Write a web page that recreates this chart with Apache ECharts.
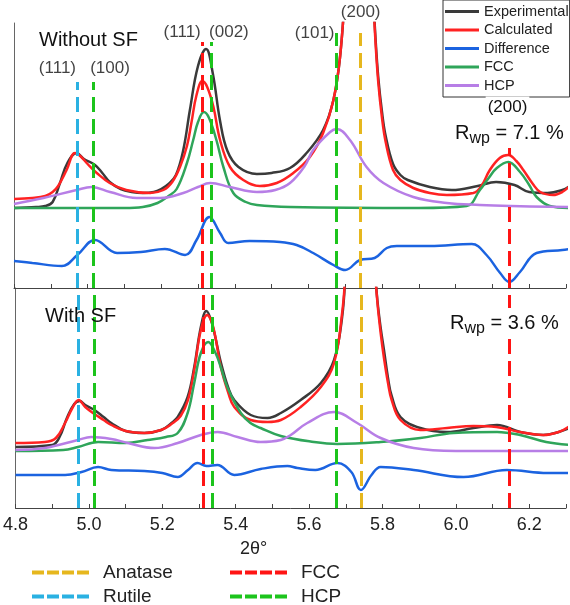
<!DOCTYPE html>
<html>
<head>
<meta charset="utf-8">
<title>XRD refinement with / without SF</title>
<script src="https://cdn.jsdelivr.net/npm/echarts@6/dist/echarts.min.js"></script>
<style>
html, body { margin: 0; padding: 0; background: #fff; }
#chart { width: 570px; height: 605px; }
</style>
</head>
<body>
<div id="chart"></div>
<script>
// 2θ positions of the reference reflections
const rutilePeaks = [4.972]
const hcpPeaks = [5.015, 5.335, 5.675]
const fccPeaks = [5.312, 6.146]
const anatasePeaks = [5.741]

// upper panel: without stacking faults (arbitrary intensity units)
const topExperimental = [
  [4.80, 80], [4.86, 81], [4.885, 82], [4.905, 86], [4.925, 105], [4.945, 125], [4.97, 135],
  [4.99, 129], [5.02, 123], [5.04, 115], [5.06, 106], [5.09, 99], [5.12, 96], [5.15, 95],
  [5.18, 96], [5.20, 99], [5.22, 104], [5.24, 113], [5.26, 138], [5.278, 178], [5.30, 222],
  [5.322, 239], [5.34, 215], [5.36, 167], [5.38, 137], [5.41, 121], [5.46, 114], [5.50, 115],
  [5.55, 120], [5.595, 135], [5.64, 158], [5.668, 188], [5.686, 231], [5.70, 300], [5.72, 430],
  [5.74, 520], [5.76, 420], [5.775, 300], [5.782, 252], [5.79, 210], [5.80, 176], [5.81, 152],
  [5.83, 124], [5.85, 113], [5.87, 108], [5.93, 101], [5.99, 98], [6.06, 102], [6.11, 106],
  [6.16, 103], [6.20, 96], [6.25, 95], [6.29, 98], [6.31, 102]
]
const topCalculated = [
  [4.80, 89], [4.85, 90], [4.885, 92], [4.905, 96], [4.92, 102], [4.943, 118], [4.966, 135],
  [4.98, 132], [5.00, 124], [5.025, 115], [5.06, 105], [5.105, 98], [5.17, 95], [5.206, 98],
  [5.23, 106], [5.251, 121], [5.27, 142], [5.282, 165], [5.296, 193], [5.312, 207], [5.325, 201],
  [5.342, 181], [5.36, 148], [5.387, 121], [5.423, 108], [5.468, 102], [5.514, 105], [5.559, 115],
  [5.604, 131], [5.64, 155], [5.668, 188], [5.686, 231], [5.70, 300], [5.72, 430], [5.74, 520],
  [5.76, 410], [5.775, 300], [5.782, 248], [5.79, 205], [5.80, 170], [5.81, 146], [5.83, 118],
  [5.85, 108], [5.885, 100], [5.93, 95], [5.976, 93], [6.048, 95], [6.07, 102], [6.093, 118],
  [6.12, 130], [6.143, 133], [6.165, 127], [6.184, 118], [6.21, 104], [6.23, 96], [6.265, 93],
  [6.29, 96], [6.31, 102]
]
const topDifference = [
  [4.80, 27], [4.85, 25], [4.93, 22], [4.972, 33], [5.02, 48], [5.08, 35], [5.145, 36],
  [5.21, 39], [5.265, 33], [5.296, 48], [5.331, 71], [5.36, 55], [5.382, 45], [5.44, 47],
  [5.523, 46], [5.568, 43], [5.613, 35], [5.668, 23], [5.70, 18], [5.74, 28], [5.78, 30],
  [5.813, 40], [5.84, 42], [5.93, 42], [6.044, 44], [6.084, 33], [6.121, 15], [6.146, 6],
  [6.175, 16], [6.22, 35], [6.29, 38], [6.31, 39]
]
const topFcc = [
  [4.80, 80], [5.10, 80], [5.15, 81], [5.19, 85], [5.22, 92], [5.242, 99], [5.27, 125],
  [5.287, 148], [5.30, 166], [5.316, 176], [5.33, 170], [5.35, 148], [5.369, 121], [5.396, 95],
  [5.43, 86], [5.46, 83], [5.55, 81], [5.90, 80], [6.03, 82], [6.066, 98], [6.09, 110],
  [6.112, 120], [6.143, 126], [6.175, 116], [6.20, 103], [6.22, 91], [6.256, 82], [6.31, 80]
]
const topHcp = [
  [4.80, 84], [4.88, 90], [4.97, 98], [5.011, 101], [5.061, 96], [5.133, 90], [5.197, 90],
  [5.26, 95], [5.30, 101], [5.333, 105], [5.387, 101], [5.46, 96], [5.51, 98], [5.55, 105],
  [5.59, 122], [5.613, 138], [5.659, 156], [5.677, 159], [5.713, 148], [5.758, 121],
  [5.804, 105], [5.885, 91], [5.976, 85], [6.066, 83], [6.15, 82], [6.31, 81]
]

// lower panel: with stacking faults
const botExperimental = [
  [4.80, 61], [4.90, 63], [4.92, 71], [4.94, 90], [4.96, 104], [4.975, 107], [4.99, 103],
  [5.015, 98], [5.04, 91], [5.061, 85], [5.10, 77], [5.151, 75], [5.197, 78], [5.225, 85],
  [5.242, 91], [5.269, 111], [5.287, 141], [5.305, 181], [5.32, 197], [5.335, 185], [5.36, 145],
  [5.38, 120], [5.396, 108], [5.441, 93], [5.487, 90], [5.523, 95], [5.577, 108], [5.632, 125],
  [5.668, 148], [5.69, 191], [5.70, 240], [5.72, 350], [5.74, 450], [5.76, 350], [5.778, 245],
  [5.786, 208], [5.795, 180], [5.804, 158], [5.815, 130], [5.825, 112], [5.849, 91], [5.903, 80],
  [5.976, 76], [6.048, 80], [6.112, 83], [6.175, 76], [6.238, 73], [6.28, 76], [6.31, 80]
]
const botCalculated = [
  [4.80, 65], [4.88, 66], [4.91, 70], [4.935, 85], [4.955, 100], [4.972, 108], [4.99, 101],
  [5.015, 94], [5.04, 88], [5.061, 83], [5.10, 77], [5.151, 75], [5.197, 78], [5.225, 84],
  [5.25, 92], [5.27, 108], [5.287, 138], [5.305, 178], [5.322, 193], [5.338, 182], [5.36, 140],
  [5.38, 115], [5.396, 101], [5.441, 88], [5.487, 86], [5.523, 88], [5.577, 101], [5.632, 121],
  [5.668, 145], [5.69, 195], [5.70, 240], [5.72, 350], [5.74, 450], [5.76, 350], [5.778, 245],
  [5.786, 206], [5.795, 175], [5.804, 150], [5.815, 125], [5.825, 108], [5.849, 88], [5.903, 78],
  [5.976, 80], [6.048, 82], [6.11, 81], [6.175, 76], [6.238, 73], [6.28, 76], [6.31, 82]
]
const botDifference = [
  [4.80, 33], [4.935, 33], [4.98, 36], [5.025, 41], [5.061, 38], [5.151, 37], [5.20, 35],
  [5.242, 31], [5.27, 38], [5.296, 45], [5.32, 42], [5.35, 43], [5.396, 33], [5.468, 39],
  [5.541, 42], [5.568, 40], [5.617, 38], [5.677, 45], [5.715, 36], [5.741, 18], [5.77, 33],
  [5.795, 41], [5.885, 38], [6.021, 31], [6.139, 38], [6.25, 35], [6.31, 35]
]
const botFcc = [
  [4.80, 57], [4.93, 58], [4.97, 61], [5.025, 66], [5.10, 65], [5.16, 68], [5.21, 71],
  [5.242, 75], [5.269, 95], [5.287, 125], [5.305, 155], [5.325, 166], [5.345, 155], [5.36, 140],
  [5.378, 120], [5.414, 95], [5.44, 85], [5.468, 80], [5.523, 72], [5.613, 66], [5.677, 64],
  [5.795, 66], [5.903, 70], [5.994, 75], [6.112, 76], [6.175, 73], [6.246, 66], [6.31, 63]
]
const botHcp = [
  [4.80, 58], [4.88, 60], [4.97, 68], [5.006, 71], [5.061, 69], [5.106, 65], [5.179, 60],
  [5.242, 65], [5.305, 73], [5.351, 76], [5.405, 71], [5.468, 66], [5.523, 68], [5.55, 73],
  [5.595, 85], [5.668, 96], [5.731, 85], [5.795, 70], [5.885, 60], [6.0, 57], [6.31, 57]
]

const FONT = 'Liberation Sans, Arial, sans-serif'
const C = {
  exp: '#3a3a3a', calc: '#ff2222', diff: '#1b63e0', fcc: '#2fa55a', hcp: '#b77ee6',
  anatase: '#e6b71e', rutile: '#2ab1e2', fccRef: '#ff1414', hcpRef: '#1cc41c'
}
const DASH_ICON = 'path://M0,0h12v4h-12zM15,0h12v4h-12zM30,0h12v4h-12zM45,0h12v4h-12z'

// where the dashed lines stop in the upper panel (leaves room for the hkl labels)
const topEnds = { rutile: [206], hcp: [206, 246, 255], fcc: [246, 195], anatase: [255] }
const BOT_TOP = 220

// hkl labels of the upper panel: text, 2θ of label centre, height of label centre
const topHkl = [
  ['(111)', 4.918, 220], ['(100)', 5.061, 220], ['(111)', 5.257, 256], ['(002)', 5.384, 256],
  ['(101)', 5.617, 255], ['(200)', 5.742, 276]
]

function curve(name, data, color, g) {
  return {
    name, type: 'line', xAxisIndex: g, yAxisIndex: g, data,
    smooth: 0.4, symbol: 'none', silent: true, z: 2,
    lineStyle: { color, width: 2.5 }, itemStyle: { color }
  }
}

function refLines(name, peaks, color, g, ends) {
  return {
    name, type: 'line', xAxisIndex: g, yAxisIndex: g, data: [],
    symbol: 'none', silent: true, z: 3,
    lineStyle: { color, width: 4 }, itemStyle: { color },
    markLine: {
      silent: true, symbol: 'none', animation: false,
      label: { show: false },
      lineStyle: { color, width: 3, type: [15, 7] },
      data: peaks.map((x, i) => [{ coord: [x, 0] }, { coord: [x, ends[i]] }])
    }
  }
}

function xAxis(g, labels) {
  return {
    type: 'value', gridIndex: g, min: 4.8, max: 6.3, interval: 0.1,
    axisLine: { lineStyle: { color: '#444', width: 1 } },
    axisTick: { inside: true, length: 4, lineStyle: { color: '#444' } },
    splitLine: { show: false },
    axisLabel: {
      show: labels, color: '#222', fontSize: 18, fontFamily: FONT, margin: 8,
      formatter: function(v) {
        const t = Math.round(v * 10)
        return t % 2 === 0 ? (t / 10).toFixed(1) : ''
      }
    }
  }
}

function yAxis(g, max) {
  return {
    type: 'value', gridIndex: g, min: 0, max: max,
    axisLine: { show: true, lineStyle: { color: '#666', width: 1 } },
    axisTick: { show: false }, axisLabel: { show: false }, splitLine: { show: false }
  }
}

function refLegend(names, left) {
  return {
    data: names, orient: 'vertical', left, top: 563, height: 60, padding: 0,
    itemGap: 5, itemWidth: 57, itemHeight: 4, icon: DASH_ICON, selectedMode: false,
    itemStyle: { borderWidth: 0 },
    formatter: name => name.replace(' peaks', ''),
    textStyle: { fontSize: 19, lineHeight: 19, fontFamily: FONT, color: '#222', padding: [0, 0, 0, 9] }
  }
}

function rwp(left, top, value) {
  return {
    type: 'text', left, top, z: 100, silent: true,
    style: {
      text: '{r|R}{s|wp}{r| = ' + value + ' %}',
      backgroundColor: '#fff', padding: [2, 2],
      rich: {
        r: { fontSize: 20, fontFamily: FONT, fill: '#111', lineHeight: 26 },
        s: { fontSize: 16, fontFamily: FONT, fill: '#111', lineHeight: 14, padding: [12, 0, 0, 0] }
      }
    }
  }
}

const chartDom = echarts.init(document.getElementById('chart'))
const bottomEnds = n => new Array(n).fill(BOT_TOP)

const option = {
  animation: false,
  grid: [
    { left: 14, width: 552, top: 23, height: 265 },
    { left: 14, width: 552, top: 288, height: 220 }
  ],
  xAxis: [xAxis(0, false), xAxis(1, true)],
  yAxis: [yAxis(0, 265), yAxis(1, BOT_TOP)],
  legend: [
    {
      data: ['Experimental', 'Calculated', 'Difference', 'FCC', 'HCP'],
      orient: 'vertical', left: 443, top: 0, padding: [4, 1, 4, 2],
      itemGap: 3.5, itemWidth: 34, itemHeight: 3, icon: 'rect', selectedMode: false,
      itemStyle: { borderWidth: 0 },
      borderColor: '#333', borderWidth: 1, backgroundColor: '#fff',
      textStyle: { fontSize: 14.5, lineHeight: 14, fontFamily: FONT, color: '#222' }
    },
    refLegend(['Anatase', 'Rutile'], 32),
    refLegend(['FCC peaks', 'HCP peaks'], 230)
  ],
  series: [
    curve('Experimental', topExperimental, C.exp, 0),
    curve('Calculated', topCalculated, C.calc, 0),
    curve('Difference', topDifference, C.diff, 0),
    curve('FCC', topFcc, C.fcc, 0),
    curve('HCP', topHcp, C.hcp, 0),
    curve('Experimental', botExperimental, C.exp, 1),
    curve('Calculated', botCalculated, C.calc, 1),
    curve('Difference', botDifference, C.diff, 1),
    curve('FCC', botFcc, C.fcc, 1),
    curve('HCP', botHcp, C.hcp, 1),
    refLines('Anatase', anatasePeaks, C.anatase, 0, topEnds.anatase),
    refLines('Rutile', rutilePeaks, C.rutile, 0, topEnds.rutile),
    refLines('FCC peaks', fccPeaks, C.fccRef, 0, topEnds.fcc),
    refLines('HCP peaks', hcpPeaks, C.hcpRef, 0, topEnds.hcp),
    refLines('Anatase', anatasePeaks, C.anatase, 1, bottomEnds(anatasePeaks.length)),
    refLines('Rutile', rutilePeaks, C.rutile, 1, bottomEnds(rutilePeaks.length)),
    refLines('FCC peaks', fccPeaks, C.fccRef, 1, bottomEnds(fccPeaks.length)),
    refLines('HCP peaks', hcpPeaks, C.hcpRef, 1, bottomEnds(hcpPeaks.length)),
    {
      type: 'scatter', xAxisIndex: 0, yAxisIndex: 0, symbolSize: 0, clip: false, silent: true, z: 10,
      data: topHkl.map(d => ({ name: d[0], value: [d[1], d[2]] })),
      label: { show: true, position: 'inside', formatter: '{b}', color: '#111', fontSize: 17, fontFamily: FONT }
    }
  ],
  graphic: [
    { type: 'text', x: 39, y: 40, z: 100, silent: true,
      style: { text: 'Without SF', fontSize: 20, fontFamily: FONT, fill: '#111', verticalAlign: 'middle' } },
    { type: 'text', x: 45, y: 316.5, z: 100, silent: true,
      style: { text: 'With SF', fontSize: 20, fontFamily: FONT, fill: '#111', verticalAlign: 'middle' } },
    // FCC (200) label sits on its own dashed line, masking it
    { type: 'text', x: 507.5, y: 107, z: 100, silent: true,
      style: { text: '(200)', fontSize: 17, fontFamily: FONT, fill: '#111', align: 'center',
        verticalAlign: 'middle', backgroundColor: '#fff', padding: [2, 2] } },
    rwp(453, 118, '7.1'),
    rwp(448, 308, '3.6'),
    { type: 'text', x: 240, y: 549, z: 100, silent: true,
      style: { text: '2θ°', fontSize: 18, fontFamily: FONT, fill: '#222', verticalAlign: 'middle' } }
  ]
}

chartDom.setOption(option)
</script>
</body>
</html>
